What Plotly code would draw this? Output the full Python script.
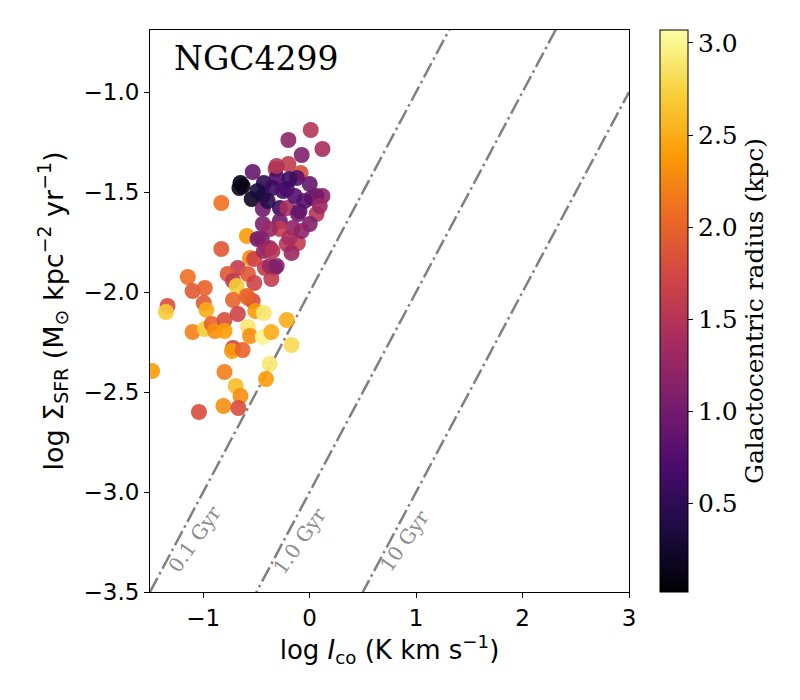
import plotly.graph_objects as go
import numpy as np

# log I_CO (K km/s)
log_ico = [0.01, -0.20, 0.12, -0.075, -0.20, -0.32, -0.535, -0.085, -0.65, -0.63,
           -0.66, -0.545, -0.44, -0.43, -0.31, -0.35, -0.215, -0.12, 0.0, 0.12,
           0.02, -0.28, -0.21, -0.44, -0.11, 0.065, -0.44, -0.28, -0.16, 0.0,
           -0.28, -0.375, -0.83, -0.59, -0.49, -0.40, -0.215, -0.11, -0.17, -0.83,
           -0.56, -0.52, -0.675, -0.77, -0.72, -0.685, -0.58, -0.52, -0.42, -0.33,
           -0.36, -1.145, -1.10, -0.985, -1.335, -1.35, -0.995, -0.97, -0.72, -0.675,
           -0.58, -0.535, -0.51, -0.43, -1.10, -0.985, -0.92, -0.89, -0.80, -0.80,
           -0.58, -0.56, -0.44, -0.36, -0.215, -0.17, -0.72, -0.73, -0.63, -1.48,
           -0.80, -0.375, -0.695, -0.41, -0.65, -1.04, -0.81, -0.67,
           0.065, -0.25, -0.095, -0.19, -0.45, -0.375, -0.375, -0.31, -0.31,
           -0.43, -0.35, -0.59, -0.19, -0.05, -0.395, -0.49, -0.14, 0.095, -0.075]

# log Sigma_SFR (Msun kpc^-2 yr^-1)
log_sfr = [-1.19, -1.24, -1.285, -1.315, -1.36, -1.385, -1.40, -1.405, -1.455, -1.47,
           -1.48, -1.535, -1.52, -1.455, -1.43, -1.48, -1.485, -1.43, -1.46, -1.52,
           -1.53, -1.58, -1.58, -1.585, -1.61, -1.61, -1.66, -1.645, -1.68, -1.66,
           -1.685, -1.685, -1.555, -1.72, -1.735, -1.785, -1.76, -1.755, -1.805, -1.785,
           -1.83, -1.835, -1.88, -1.91, -1.945, -1.97, -1.91, -1.955, -1.88, -1.88,
           -1.935, -1.925, -1.995, -1.98, -2.07, -2.10, -2.055, -2.09, -2.04, -2.11,
           -2.03, -2.045, -2.095, -2.105, -2.20, -2.185, -2.16, -2.195, -2.14, -2.195,
           -2.175, -2.22, -2.225, -2.20, -2.14, -2.265, -2.28, -2.295, -2.29, -2.395,
           -2.40, -2.36, -2.47, -2.435, -2.52, -2.60, -2.57, -2.58,
           -1.52, -1.495, -1.595, -1.73, -1.735, -1.78, -1.87, -1.87, -1.37,
           -1.795, -1.795, -2.02, -1.435, -1.545, -1.545, -1.495, -1.52, -1.57, -1.695]

# Galactocentric radius (kpc)
radius = [1.5, 1.2, 1.4, 1.1, 1.6, 1.5, 0.9, 1.8, 0.1, 0.08,
          0.15, 0.2, 0.3, 0.5, 0.7, 0.6, 0.7, 0.8, 0.9, 1.2,
          0.9, 0.6, 1.4, 1.0, 1.0, 1.5, 1.1, 1.0, 1.2, 1.1,
          1.6, 1.3, 2.1, 2.4, 1.0, 1.2, 1.5, 1.6, 1.3, 1.9,
          2.3, 1.7, 1.6, 1.9, 1.6, 2.7, 1.9, 1.7, 1.6, 1.3,
          1.6, 2.1, 1.9, 2.0, 1.8, 2.7, 1.9, 2.5, 2.0, 1.7,
          2.2, 1.8, 2.4, 2.9, 2.2, 2.7, 2.0, 2.3, 1.8, 2.4,
          2.9, 2.3, 3.0, 2.5, 2.5, 2.8, 1.7, 2.4, 2.0, 2.4,
          2.2, 2.9, 2.6, 2.4, 2.3, 1.8, 2.3, 1.8,
          1.0, 0.7, 0.9, 1.4, 1.1, 1.3, 1.3, 1.1, 1.5,
          1.3, 1.5, 2.0, 0.6, 0.8, 0.45, 0.35, 0.75, 1.3, 1.2]

# depletion time lines
tdep_gyr = [0.1, 1.0, 10.0]
tdep_labels = ["0.1 Gyr", "1.0 Gyr", "10 Gyr"]
line_x = [-1.5, 3.0]
label_x = [-1.08, -0.094, 0.89]
label_y = [-3.235, -3.245, -3.245]

SERIF = "DejaVu Serif"
SANS = "DejaVu Sans"

fig = go.Figure()

for t in tdep_gyr:
    lx = np.array(line_x)
    ly = lx - 3.0 - np.log10(t)
    fig.add_trace(go.Scatter(x=lx, y=ly, mode="lines",
                             line=dict(color="#808080", width=2.5, dash="16px,4px,2.5px,4px"),
                             showlegend=False, hoverinfo="skip"))

fig.add_trace(go.Scatter(
    x=log_ico, y=log_sfr, mode="markers",
    marker=dict(size=16, color=radius, colorscale="Inferno", cmin=0.02, cmax=3.07,
                opacity=0.9, line=dict(width=0),
                colorbar=dict(x=1.065, xanchor="left", xpad=0, y=0.5, yanchor="middle",
                              ypad=0, len=1.0, lenmode="fraction", thickness=28,
                              outlinewidth=1, outlinecolor="black",
                              ticks="outside", ticklen=5, tickcolor="black",
                              tickvals=[0.5, 1.0, 1.5, 2.0, 2.5, 3.0],
                              ticktext=["0.5", "1.0", "1.5", "2.0", "2.5", "3.0"],
                              tickfont=dict(family=SERIF, size=25, color="black"),
                              title=dict(text="Galactocentric radius (kpc)", side="right",
                                         font=dict(family=SERIF, size=25, color="black")))),
    showlegend=False))

for tx, ty, tt in zip(label_x, label_y, tdep_labels):
    fig.add_annotation(x=tx, y=ty, text=tt, showarrow=False, textangle=-55,
                       font=dict(family=SERIF, size=20, color="#8c8c8c"))

fig.add_annotation(xref="paper", yref="paper", x=0.046, y=0.95, xanchor="left",
                   yanchor="middle", text="NGC4299", showarrow=False,
                   font=dict(family=SERIF, size=33, color="black"))

fig.update_layout(
    width=792, height=692,
    margin=dict(l=142, r=171, t=22, b=108),
    plot_bgcolor="white", paper_bgcolor="white",
    xaxis=dict(range=[-1.5, 3.0], showgrid=False, zeroline=False,
               showline=True, linecolor="black", linewidth=1, mirror=True,
               ticks="outside", ticklen=5, tickcolor="black",
               tickvals=[-1, 0, 1, 2, 3], ticktext=["\u22121", "0", "1", "2", "3"],
               tickfont=dict(family=SANS, size=23, color="black"),
               title=dict(text="log <i>I</i><sub>co</sub> (K km s<sup>\u22121</sup>)",
                          font=dict(family=SANS, size=26, color="black"), standoff=10)),
    yaxis=dict(range=[-3.5, -0.69], showgrid=False, zeroline=False,
               showline=True, linecolor="black", linewidth=1, mirror=True,
               ticks="outside", ticklen=5, tickcolor="black",
               tickvals=[-3.5, -3.0, -2.5, -2.0, -1.5, -1.0],
               ticktext=["\u22123.5", "\u22123.0", "\u22122.5", "\u22122.0", "\u22121.5", "\u22121.0"],
               tickfont=dict(family=SANS, size=23, color="black"),
               title=dict(text="log \u03a3<sub>SFR</sub> (M<sub>\u2299</sub> kpc<sup>\u22122</sup> yr<sup>\u22121</sup>)",
                          font=dict(family=SANS, size=27, color="black"), standoff=12)),
)

fig.write_html("out.html")
